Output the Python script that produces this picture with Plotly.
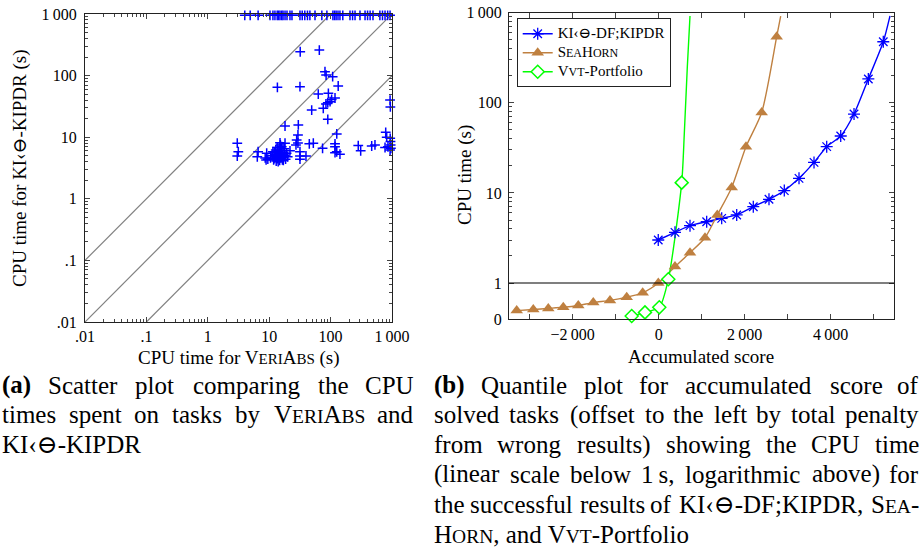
import math
import plotly.graph_objects as go

# ---------------- (a) scatter data: CPU time in seconds ----------------
# x = VeriAbs, y = KI<->KIPDR
veriabs_cpu = [
    # timeouts of KI<->KIPDR (top row)
    4.0, 4.9, 6.6, 10.3, 11.5, 12.4, 13.5, 14.2, 15.0, 16.0, 16.8, 18.1, 19.5, 21.8, 23.5,
    31.7, 34.5, 38, 42, 46, 55.7, 72, 87, 109, 116, 123, 132, 142, 158, 207, 228, 250,
    301, 364, 400, 440, 490, 635, 700, 770, 850, 930,
    # VeriAbs near time limit (right column)
    930, 940, 790, 820, 935, 945, 770, 860, 960, 930, 950,
    # upper points
    32, 65.5, 13.6, 31.7, 63, 92, 133, 81, 84.5, 108, 118, 104, 98, 90, 84,
    49.2, 76, 90, 18.1, 29.8, 29.4, 28, 29.4, 27.3, 126,
    # lower points
    3.02, 3.14, 3.02, 6.6, 6.4, 9.1, 9.5, 8.9, 8.6, 15.0, 18.1, 21.8, 31.7, 31.7, 31.7,
    39.7, 45, 52.3, 74, 118, 118, 142, 126, 118, 282, 309, 467, 528,
    # dense cluster
    10.5, 11.2, 11.8, 12.2, 12.5, 12.8, 13.0, 13.3, 13.6, 13.9, 14.2, 14.5, 14.8, 15.0,
    15.2, 15.5, 15.8, 16.1, 16.4, 16.8, 17.2, 17.6, 18.0, 18.5, 19.2, 20.0, 13.5, 12.0,
    14.0, 16.0, 11.5, 14.7, 13.2, 15.5, 17.0, 12.6,
]
kipdr_cpu = [
    950, 950, 950, 950, 950, 950, 950, 950, 950, 950, 950, 950, 950, 950, 950,
    950, 950, 950, 950, 950, 950, 950, 950, 950, 950, 950, 950, 950, 950, 950, 950, 950,
    950, 950, 950, 950, 950, 950, 950, 950, 950, 950,
    40, 31, 12, 10, 9.6, 8.5, 6.8, 7.0, 6.6, 6.2, 7.5,
    244, 260, 64.6, 66, 50.2, 51.6, 67.8, 116, 102, 96, 43.3, 41, 37.7, 36.3, 34.6,
    27.6, 29.4, 19.5, 15.2, 15.8, 10.9, 9.0, 8.05, 7.5, 11.3,
    8.0, 5.8, 4.95, 5.8, 4.8, 5.5, 4.4, 4.27, 4.6, 8.1, 8.0, 6.0, 5.8, 4.95, 4.4,
    4.95, 7.8, 8.0, 6.6, 7.8, 5.6, 5.3, 5.8, 7.0, 7.3, 6.0, 7.2, 7.5,
    4.6, 5.0, 4.3, 5.6, 4.8, 6.2, 4.1, 5.2, 4.5, 5.9, 4.9, 6.8, 4.2, 5.4,
    7.5, 4.6, 6.1, 5.0, 4.3, 5.7, 4.7, 6.5, 5.1, 4.4, 5.5, 4.8, 6.8, 4.5,
    4.0, 7.0, 5.8, 5.6, 4.6, 5.3, 4.2, 5.3,
]

# ---------------- (b) quantile data ----------------
kidf_mark_score = [-10, 379, 728, 1116, 1465, 1814, 2200, 2565, 2921, 3263, 3612, 3907, 4233, 4542, 4875, 5223]
kidf_mark_cpu = [3.0, 3.65, 4.33, 4.79, 5.22, 5.69, 7.03, 8.49, 10.6, 14.5, 21.8, 32.6, 42.8, 75, 184, 476]
kidf_tail_score = [5379]
kidf_tail_cpu = [920]

sea_mark_score = [-3302, -2916, -2567, -2219, -1870, -1521, -1133, -744, -372, -9, 379, 728, 1077, 1363, 1698, 2030, 2395, 2744]
sea_mark_cpu = [0.24, 0.27, 0.30, 0.33, 0.38, 0.46, 0.52, 0.61, 0.73, 1.0, 1.52, 2.17, 3.18, 5.69, 11.5, 32.6, 78, 542]
sea_tail_score = [2837]
sea_tail_cpu = [919]

vvt_mark_score = [-628, -319, 14, 224, 535]
vvt_mark_cpu = [0.09, 0.19, 0.33, 1.1, 13]
vvt_tail_score = [596, 666, 728]
vvt_tail_cpu = [46, 252, 920]

x_ticks_b = [-2000, 0, 2000, 4000]
x_ticktext_b = ["\u22122\u2009000", "0", "2\u2009000", "4\u2009000"]
x_minor_b = [-3000, -1000, 1000, 3000, 5000]
y_ticks_b = [0, 1, 10, 100, 1000]
y_ticktext_b = ["0", "1", "10", "100", "1\u2009000"]
log_ticks_a = [0.01, 0.1, 1, 10, 100, 1000]
log_ticktext_a = [".01", ".1", "1", "10", "100", "1\u2009000"]

# ---------------- helpers ----------------
W, H = 924, 548
FONT = "Liberation Serif, DejaVu Serif, serif"
K = 90.1 / 36.3  # log-decade height relative to the linear [0,1] part


def T(v):
    return v if v <= 1 else 1 + K * math.log10(v)


def px(xp):
    return xp / W


def py(yp):
    return 1 - yp / H


BLUE = "#0000ff"
BROWN = "#bf8040"
GREEN = "#00ff00"
GRAY = "#808080"

fig = go.Figure()

# diagonals of scatter
for xs, ys in [([0.01, 100], [0.1, 1000]), ([0.01, 1000], [0.01, 1000]), ([0.1, 1000], [0.01, 100])]:
    fig.add_trace(go.Scatter(x=xs, y=ys, mode="lines", line=dict(color=GRAY, width=1.2),
                             showlegend=False, hoverinfo="skip", xaxis="x", yaxis="y"))

fig.add_trace(go.Scatter(x=veriabs_cpu, y=kipdr_cpu, mode="markers",
                         marker=dict(symbol="cross-thin-open", size=7, color=BLUE,
                                     line=dict(color=BLUE, width=1.5)),
                         showlegend=False, xaxis="x", yaxis="y", cliponaxis=False))

LF = 15   # legend text size
SC = 12   # legend small-caps size
series = [
    ("KI\u2039\u2296-DF;KIPDR", kidf_mark_score, kidf_mark_cpu, kidf_tail_score, kidf_tail_cpu, BLUE,
     dict(symbol="asterisk-open", size=10, color=BLUE, line=dict(color=BLUE, width=1.3))),
    ("S<span style='font-size:%gpx'>EA</span>H<span style='font-size:%gpx'>ORN</span>" % (SC, SC),
     sea_mark_score, sea_mark_cpu, sea_tail_score, sea_tail_cpu, BROWN,
     dict(symbol="triangle-up", size=11, color=BROWN, line=dict(width=0))),
    ("V<span style='font-size:%gpx'>VT</span>-Portfolio" % SC,
     vvt_mark_score, vvt_mark_cpu, vvt_tail_score, vvt_tail_cpu, GREEN,
     dict(symbol="diamond", size=10, color="white", line=dict(color=GREEN, width=1.5))),
]
for name, ms, mc, ts, tc, col, mk in series:
    cx = ms + ts
    cy = [T(v) for v in mc + tc]
    fig.add_trace(go.Scatter(x=cx, y=cy, mode="lines",
                             line=dict(color=col, width=1.4, shape="spline", smoothing=0.7),
                             showlegend=False, hoverinfo="skip", xaxis="x2", yaxis="y2"))
for name, ms, mc, ts, tc, col, mk in series:
    fig.add_trace(go.Scatter(x=ms, y=[T(v) for v in mc], mode="markers", marker=mk,
                             showlegend=False, xaxis="x2", yaxis="y2", cliponaxis=False))
for name, ms, mc, ts, tc, col, mk in series:
    fig.add_trace(go.Scatter(x=[None], y=[None], mode="lines+markers",
                             name="<span style='font-size:%gpx'>%s</span>" % (LF, name),
                             line=dict(color=col, width=1.4), marker=mk,
                             xaxis="x2", yaxis="y2"))

axis_common = dict(showline=True, linecolor="#222", linewidth=1, mirror="allticks",
                   ticks="inside", ticklen=5, tickcolor="#444", tickwidth=1,
                   showgrid=False, zeroline=False, automargin=False,
                   tickfont=dict(family=FONT, size=16, color="black"))
minor_log = [m * 10 ** d for d in range(-2, 3) for m in range(2, 10)]

fig.update_layout(
    width=W, height=H, margin=dict(l=0, r=0, t=0, b=0),
    paper_bgcolor="white", plot_bgcolor="white",
    font=dict(family=FONT, color="black"),
    xaxis=dict(domain=[px(85), px(392)], type="log", range=[-2, 3], anchor="y",
               tickvals=log_ticks_a, ticktext=log_ticktext_a,
               minor=dict(tickvals=minor_log, ticks="inside", ticklen=3, tickcolor="#444"),
               **axis_common),
    yaxis=dict(domain=[py(322), py(14)], type="log", range=[-2, 3], anchor="x",
               tickvals=log_ticks_a, ticktext=log_ticktext_a, ticklabelstandoff=4,
               minor=dict(tickvals=minor_log, ticks="inside", ticklen=3, tickcolor="#444"),
               **axis_common),
    xaxis2=dict(domain=[px(509), px(894)], range=[-3481, 5472], anchor="y2",
                tickvals=x_ticks_b, ticktext=x_ticktext_b,
                minor=dict(tickvals=x_minor_b, ticks="inside", ticklen=5, tickcolor="#444"),
                **axis_common),
    yaxis2=dict(domain=[py(319.3), py(12.7)], range=[0, 1 + 3 * K], anchor="x2",
                tickvals=[T(v) for v in y_ticks_b], ticktext=y_ticktext_b, ticklabelstandoff=3,
                minor=dict(tickvals=[T(m * 10 ** d) for d in range(0, 3) for m in range(2, 10)],
                           ticks="inside", ticklen=3, tickcolor="#444"),
                **axis_common),
    legend=dict(x=px(516.7), y=py(18.3), xanchor="left", yanchor="top",
                bordercolor="#222", borderwidth=1, bgcolor="white",
                font=dict(family=FONT, size=12, color="black"),
                itemwidth=30, tracegroupgap=0),
    showlegend=True,
)

fig.add_shape(type="line", xref="x2 domain", yref="y2", x0=0, x1=1, y0=1, y1=1,
              line=dict(color="black", width=1.2))

ann = []
TITLE = 19
ann.append(dict(text="CPU time for V<span style='font-size:15px'>ERI</span>A<span style='font-size:15px'>BS</span> (s)",
                x=px(238.5), y=py(358), xanchor="center", yanchor="middle", font=dict(size=TITLE)))
ann.append(dict(text="Accumulated score", x=px(701), y=py(356), xanchor="center", yanchor="middle",
                font=dict(size=TITLE)))
ann.append(dict(text="CPU time for KI\u2039\u2296-KIPDR (s)", x=px(20), y=py(168), textangle=-90,
                xanchor="center", yanchor="middle", font=dict(size=TITLE)))
ann.append(dict(text="CPU time (s)", x=px(465), y=py(175), textangle=-90,
                xanchor="center", yanchor="middle", font=dict(size=TITLE)))

# ---------------- captions (justified by placing words) ----------------
CW = {}
for ch, wv in zip("abcdefghijklmnopqrstuvwxyz",
                  [444, 500, 444, 500, 444, 333, 500, 500, 278, 278, 500, 278, 778, 500, 500, 500, 500, 333, 389, 278, 500, 500, 722, 500, 500, 444]):
    CW[ch] = wv
for ch, wv in zip("ABCDEFGHIJKLMNOPQRSTUVWXYZ",
                  [722, 667, 667, 722, 611, 556, 722, 722, 333, 389, 722, 611, 889, 722, 722, 556, 722, 667, 556, 611, 722, 722, 944, 722, 722, 611]):
    CW[ch] = wv
CW.update({" ": 250, "(": 333, ")": 333, ",": 250, ";": 278, "-": 333, ".": 250,
           "\u2039": 333, "\u2296": 838, "\u2009": 170})
for d in "0123456789":
    CW[d] = 500
BOLDW = {"(": 333, ")": 333, "a": 500, "b": 556}

CAP = 25
SCF = 0.78


def word_html(word, fs, state):
    """'*' toggles bold, '§' toggles small caps. Returns html and estimated width."""
    html, wsum = "", 0.0
    buf, bufkind = "", None

    def flush():
        nonlocal html, buf
        if not buf:
            return
        if bufkind == "b":
            html += "<b>" + buf + "</b>"
        elif bufkind == "sclow":
            html += "<span style='font-size:%gpx'>%s</span>" % (fs * SCF, buf.upper())
        else:
            html += buf
        buf = ""

    for c in word:
        if c == "*":
            flush(); state["b"] = not state["b"]; continue
        if c == "\u00a7":
            flush(); state["sc"] = not state["sc"]; continue
        if state["b"]:
            kind = "b"; wv = BOLDW.get(c, 500)
        elif state["sc"] and c.islower():
            kind = "sclow"; wv = CW[c.upper()] * SCF
        else:
            kind = "n"; wv = CW.get(c, 500)
        if kind != bufkind:
            flush(); bufkind = kind
        buf += c
        wsum += wv
    flush()
    return html, wsum * fs / 1000.0 * 1.03


cap_a = [
    "*(a)* Scatter plot comparing the CPU",
    "times spent on tasks by \u00a7VeriAbs\u00a7 and",
    "KI\u2039\u2296-KIPDR",
]
cap_b = [
    "*(b)* Quantile plot for accumulated score of",
    "solved tasks (offset to the left by total penalty",
    "from wrong results) showing the CPU time",
    "(linear scale below 1\u2009s, logarithmic above) for",
    "the successful results of KI\u2039\u2296-DF;KIPDR, \u00a7Sea\u00a7-",
    "\u00a7Horn\u00a7, and \u00a7Vvt\u00a7-Portfolio",
]


def add_caption(lines, x0, x1):
    state = {"b": False, "sc": False}
    for i, line in enumerate(lines):
        yc = py(385 + 29.8 * i)
        words = line.split(" ")
        parts = [word_html(w_, CAP, state) for w_ in words]
        if i == len(lines) - 1:
            html = " ".join(p[0] for p in parts)
            ann.append(dict(text=html, x=px(x0), y=yc, xanchor="left", yanchor="middle",
                            font=dict(size=CAP), borderpad=0))
            continue
        total = sum(p[1] for p in parts)
        gap = (x1 - x0 - total) / (len(parts) - 1)
        pos = x0
        for j, (h, wv) in enumerate(parts):
            if j == 0:
                ann.append(dict(text=h, x=px(x0), y=yc, xanchor="left", yanchor="middle",
                                font=dict(size=CAP), borderpad=0))
            elif j == len(parts) - 1:
                ann.append(dict(text=h, x=px(x1), y=yc, xanchor="right", yanchor="middle",
                                font=dict(size=CAP), borderpad=0))
            else:
                ann.append(dict(text=h, x=px(pos + wv / 2), y=yc, xanchor="center", yanchor="middle",
                                font=dict(size=CAP), borderpad=0))
            pos += wv + gap


add_caption(cap_a, 1, 415)
add_caption(cap_b, 433, 920)

for a in ann:
    a.update(xref="paper", yref="paper", showarrow=False)
    a.setdefault("font", {})
    a["font"].update(family=FONT, color="black")
fig.update_layout(annotations=ann)

fig.write_html("out.html", config={"displayModeBar": False},
               post_script="document.body.style.margin='0';document.body.style.overflow='hidden';")
